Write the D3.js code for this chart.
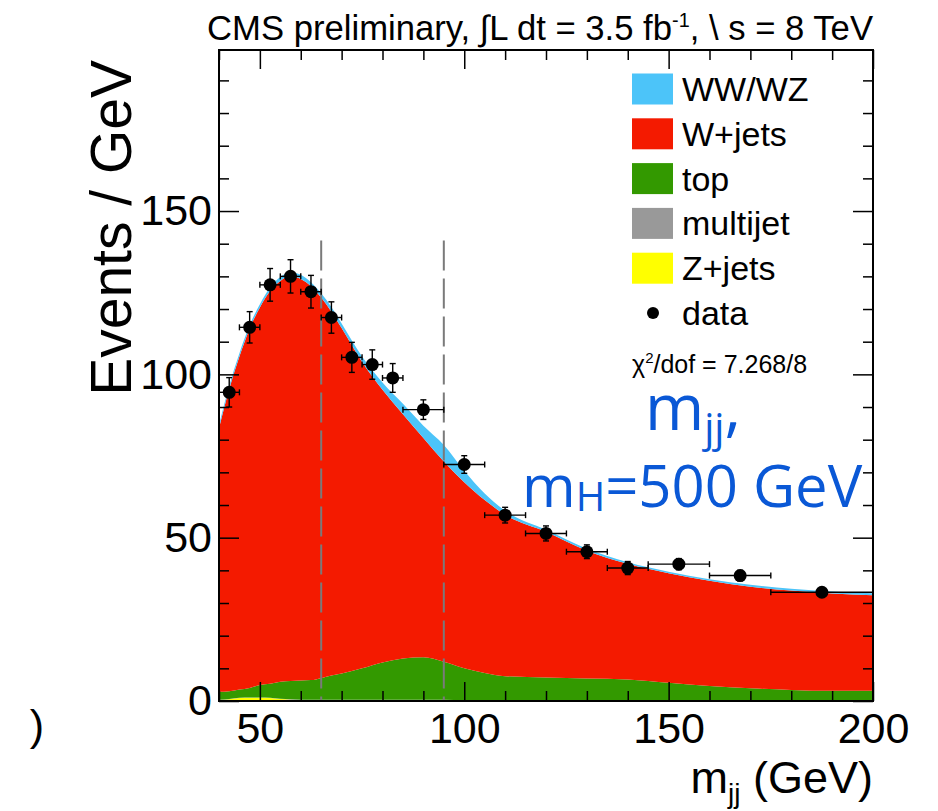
<!DOCTYPE html>
<html lang="en">
<head>
<meta charset="utf-8">
<title>mjj fit, mH = 500 GeV</title>
<script src="https://cdn.jsdelivr.net/npm/d3@7"></script>
<style>
  body { margin: 0; background-color: white; }
  svg { font-family: "Liberation Sans", Arial, sans-serif; }
  .frame { fill: none; stroke: black; stroke-width: 2; }
  .axis path { display: none; }
  .axis line { stroke: black; stroke-width: 1.5; }
  .axis text { font-family: "Liberation Sans", Arial, sans-serif; font-size: 43px; fill: black; }
  .cut { stroke: #7a7a7a; stroke-width: 2; stroke-dasharray: 30 8; }
  .err { stroke: black; stroke-width: 1.4; }
</style>
</head>
<body>
<script>

// m_jj sampling points (GeV) for the stacked templates
var mjj = [40, 42.5, 45, 47.5, 50, 52.5, 55, 57.5, 60, 62.5, 65, 67.5, 70, 75, 80,
           85, 90, 95, 100, 105, 110, 120, 130, 140, 150, 160, 170, 180, 190, 200];

// events / GeV per process (stacked from bottom)
var zjets    = [0.3, 0.5, 0.9, 1.0, 1.0, 0.9, 0.6, 0.4, 0.3, 0.3, 0.3, 0.3, 0.3, 0.3, 0.3,
                0.3, 0.3, 0.3, 0.2, 0.2, 0.2, 0.2, 0.2, 0.2, 0.2, 0.2, 0.1, 0.1, 0.1, 0.1];
var multijet = [0.1, 0.1, 0.1, 0.1, 0.1, 0.1, 0.1, 0.1, 0.1, 0.1, 0.1, 0.1, 0.1, 0.1, 0.1,
                0.1, 0.1, 0.1, 0.1, 0.1, 0.1, 0.1, 0.1, 0.1, 0.1, 0.1, 0.1, 0.1, 0.1, 0.1];
var topq     = [2.4, 2.4, 2.5, 2.9, 3.8, 4.3, 5.2, 5.6, 5.9, 6.0, 6.6, 7.4, 8.0, 9.6, 11.4,
                12.6, 13.0, 11.6, 9.7, 8.3, 7.3, 6.9, 6.6, 6.3, 5.3, 4.3, 3.7, 3.2, 2.9, 2.9];
var wjets    = [80.7, 92.5, 102.0, 110.0, 115.6, 120.2, 122.7, 123.9, 122.9, 120.6, 116.5, 111.4, 105.8, 93.8, 83.5,
                74.8, 67.1, 61.3, 57.0, 52.9, 49.4, 44.6, 39.1, 35.4, 33.5, 32.2, 31.1, 30.4, 29.8, 29.3];
var wwwz     = [1.0, 1.0, 1.0, 1.0, 1.0, 1.1, 1.2, 1.2, 1.3, 1.2, 1.3, 1.4, 1.4, 1.7, 2.2,
                3.2, 3.8, 5.1, 3.5, 2.0, 1.2, 0.6, 0.6, 0.5, 0.5, 0.5, 0.6, 0.6, 0.6, 0.6];

// data points
var dataX    = [42.5, 47.5, 52.5, 57.5, 62.5, 67.5, 72.5, 77.5, 82.5, 90, 100, 110, 120, 130, 140, 152.5, 167.5, 187.5];
var dataY    = [94.5, 114.4, 127.4, 130, 125.3, 117.4, 105.2, 103, 98.9, 89.2, 72.4, 56.9, 51.3, 45.7, 40.7, 41.9, 38.4, 33.3];
var dataXerr = [2.5, 2.5, 2.5, 2.5, 2.5, 2.5, 2.5, 2.5, 2.5, 5, 5, 5, 5, 5, 5, 7.5, 7.5, 12.5];
var dataYerr = [4.5, 4.8, 5.0, 5.1, 5.0, 4.8, 4.6, 4.5, 4.4, 3.0, 2.7, 2.4, 2.3, 2.1, 2.0, 1.7, 1.6, 1.2];

var cutLines = [65, 95];
var xTicks = [50, 100, 150, 200];
var yTicks = [0, 50, 100, 150];

var processes = ["Z+jets", "multijet", "top", "W+jets", "WW/WZ"];
var colors = {"Z+jets": "#ffff00", "multijet": "#999999", "top": "#339900", "W+jets": "#f41a00", "WW/WZ": "#4cc4f9"};
var legendOrder = ["WW/WZ", "W+jets", "top", "multijet", "Z+jets"];

var plotLeft = 219, plotRight = 873, plotTop = 50, plotBottom = 701;

var svg = d3.select("body").append("svg")
    .attr("width", 938)
    .attr("height", 811);

var x = d3.scaleLinear().domain([40, 200]).range([plotLeft, plotRight]);
var y = d3.scaleLinear().domain([0, 199.3]).range([plotBottom, plotTop]);

var rows = mjj.map(function(m, i) {
  return {m: m, "Z+jets": zjets[i], "multijet": multijet[i], "top": topq[i], "W+jets": wjets[i], "WW/WZ": wwwz[i]};
});

var stack = d3.stack().keys(processes)(rows);

var area = d3.area()
    .curve(d3.curveMonotoneX)
    .x(function(d) { return x(d.data.m); })
    .y0(function(d) { return y(d[0]); })
    .y1(function(d) { return y(d[1]); });

svg.append("g").selectAll("path")
    .data(stack)
    .enter()
    .append("path")
    .attr("d", area)
    .attr("fill", function(d) { return colors[d.key]; });

// dashed signal-region lines
svg.append("g").selectAll("line")
    .data(cutLines)
    .enter()
    .append("line")
    .attr("class", "cut")
    .attr("x1", function(d) { return x(d); })
    .attr("x2", function(d) { return x(d); })
    .attr("y1", y(141))
    .attr("y2", plotBottom);

// data with error bars
var pts = svg.append("g").selectAll("g")
    .data(dataX)
    .enter()
    .append("g");

pts.append("line").attr("class", "err")
    .attr("x1", function(d, i) { return x(d - dataXerr[i]); })
    .attr("x2", function(d, i) { return x(d + dataXerr[i]); })
    .attr("y1", function(d, i) { return y(dataY[i]); })
    .attr("y2", function(d, i) { return y(dataY[i]); });

pts.append("line").attr("class", "err")
    .attr("x1", function(d) { return x(d); })
    .attr("x2", function(d) { return x(d); })
    .attr("y1", function(d, i) { return y(dataY[i] - dataYerr[i]); })
    .attr("y2", function(d, i) { return y(dataY[i] + dataYerr[i]); });

[-1, 1].forEach(function(s) {
  pts.append("line").attr("class", "err")
      .attr("x1", function(d) { return x(d) - 3; })
      .attr("x2", function(d) { return x(d) + 3; })
      .attr("y1", function(d, i) { return y(dataY[i] + s * dataYerr[i]); })
      .attr("y2", function(d, i) { return y(dataY[i] + s * dataYerr[i]); });
  pts.append("line").attr("class", "err")
      .attr("x1", function(d, i) { return x(d + s * dataXerr[i]); })
      .attr("x2", function(d, i) { return x(d + s * dataXerr[i]); })
      .attr("y1", function(d, i) { return y(dataY[i]) - 3; })
      .attr("y2", function(d, i) { return y(dataY[i]) + 3; });
});

pts.append("circle")
    .attr("cx", function(d) { return x(d); })
    .attr("cy", function(d, i) { return y(dataY[i]); })
    .attr("r", 6.5)
    .attr("fill", "black");

// axes: ticks point inward on all four sides
var minorX = d3.range(40, 201, 10).filter(function(v) { return xTicks.indexOf(v) < 0; });
var minorY = d3.range(0, 200, 10).filter(function(v) { return yTicks.indexOf(v) < 0; });

svg.append("g").attr("class", "axis")
    .attr("transform", "translate(0," + plotBottom + ")")
    .call(d3.axisBottom(x).tickValues(xTicks).tickSize(-19).tickPadding(11).tickFormat(d3.format("d")));
svg.append("g").attr("class", "axis")
    .attr("transform", "translate(0," + plotBottom + ")")
    .call(d3.axisBottom(x).tickValues(minorX).tickSize(-10).tickFormat(""));
svg.append("g").attr("class", "axis")
    .attr("transform", "translate(0," + plotTop + ")")
    .call(d3.axisTop(x).tickValues(xTicks).tickSize(-19).tickFormat(""));
svg.append("g").attr("class", "axis")
    .attr("transform", "translate(0," + plotTop + ")")
    .call(d3.axisTop(x).tickValues(minorX).tickSize(-10).tickFormat(""));

svg.append("g").attr("class", "axis")
    .attr("transform", "translate(" + plotLeft + ",0)")
    .call(d3.axisLeft(y).tickValues(yTicks).tickSize(-20).tickPadding(7).tickFormat(d3.format("d")));
svg.append("g").attr("class", "axis")
    .attr("transform", "translate(" + plotLeft + ",0)")
    .call(d3.axisLeft(y).tickValues(minorY).tickSize(-10).tickFormat(""));
svg.append("g").attr("class", "axis")
    .attr("transform", "translate(" + plotRight + ",0)")
    .call(d3.axisRight(y).tickValues(yTicks).tickSize(-20).tickFormat(""));
svg.append("g").attr("class", "axis")
    .attr("transform", "translate(" + plotRight + ",0)")
    .call(d3.axisRight(y).tickValues(minorY).tickSize(-10).tickFormat(""));

svg.append("rect")
    .attr("class", "frame")
    .attr("x", plotLeft).attr("y", plotTop)
    .attr("width", plotRight - plotLeft).attr("height", plotBottom - plotTop);

// title
var title = svg.append("text")
    .attr("x", 207).attr("y", 40)
    .attr("font-size", 35)
    .attr("textLength", 666)
    .attr("lengthAdjust", "spacingAndGlyphs");
title.append("tspan").text("CMS preliminary, \u222BL dt = 3.5 fb");
title.append("tspan").attr("font-size", 20).attr("dy", -13).text("-1");
title.append("tspan").attr("dy", 13).text(", \\ s = 8 TeV");

// axis titles
svg.append("text")
    .attr("transform", "translate(131,60) rotate(-90)")
    .attr("text-anchor", "end")
    .attr("font-size", 57)
    .text("Events / GeV");

var xt = svg.append("text")
    .attr("x", 873).attr("y", 793)
    .attr("text-anchor", "end")
    .attr("font-size", 45);
xt.append("tspan").text("m");
xt.append("tspan").attr("font-size", 28).attr("dy", 10).text("jj");
xt.append("tspan").attr("dy", -10).text(" (GeV)");

svg.append("text")
    .attr("x", 44).attr("y", 740)
    .attr("text-anchor", "end")
    .attr("font-size", 43)
    .text(")");

// legend
var leg = svg.append("g").selectAll("g")
    .data(legendOrder)
    .enter()
    .append("g")
    .attr("transform", function(d, i) { return "translate(632," + (89 + i * 44.8) + ")"; });

leg.append("rect")
    .attr("x", 0).attr("y", -15.5)
    .attr("width", 41).attr("height", 31)
    .attr("fill", function(d) { return colors[d]; });

leg.append("text")
    .attr("x", 50).attr("y", 12)
    .attr("font-size", 34)
    .text(function(d) { return d; });

var dataLeg = svg.append("g").attr("transform", "translate(632," + (89 + 5 * 44.8) + ")");
dataLeg.append("circle").attr("cx", 21).attr("cy", 0).attr("r", 6).attr("fill", "black");
dataLeg.append("text").attr("x", 50).attr("y", 12).attr("font-size", 34).text("data");

var chi = svg.append("text")
    .attr("x", 632).attr("y", 373)
    .attr("font-size", 25);
chi.append("tspan").text("\u03C7");
chi.append("tspan").attr("font-size", 15).attr("dy", -10).text("2");
chi.append("tspan").attr("dy", 10).text("/dof = 7.268/8");

// blue annotation
var blue = "#0a58d6";
var a1 = svg.append("text")
    .attr("x", 645).attr("y", 430)
    .attr("font-family", "'Open Sans', sans-serif")
    .attr("font-size", 64)
    .attr("fill", blue);
a1.append("tspan").text("m");
a1.append("tspan").attr("font-size", 40).attr("dy", 12).text("jj");
a1.append("tspan").attr("dy", -12).text(",");

var a2 = svg.append("text")
    .attr("x", 522).attr("y", 507)
    .attr("font-family", "'Open Sans', sans-serif")
    .attr("font-size", 58)
    .attr("fill", blue);
a2.append("tspan").text("m");
a2.append("tspan").attr("font-size", 40).attr("dy", 4).text("H");
a2.append("tspan").attr("dy", -4).text("=500 GeV");

</script>
</body>
</html>
